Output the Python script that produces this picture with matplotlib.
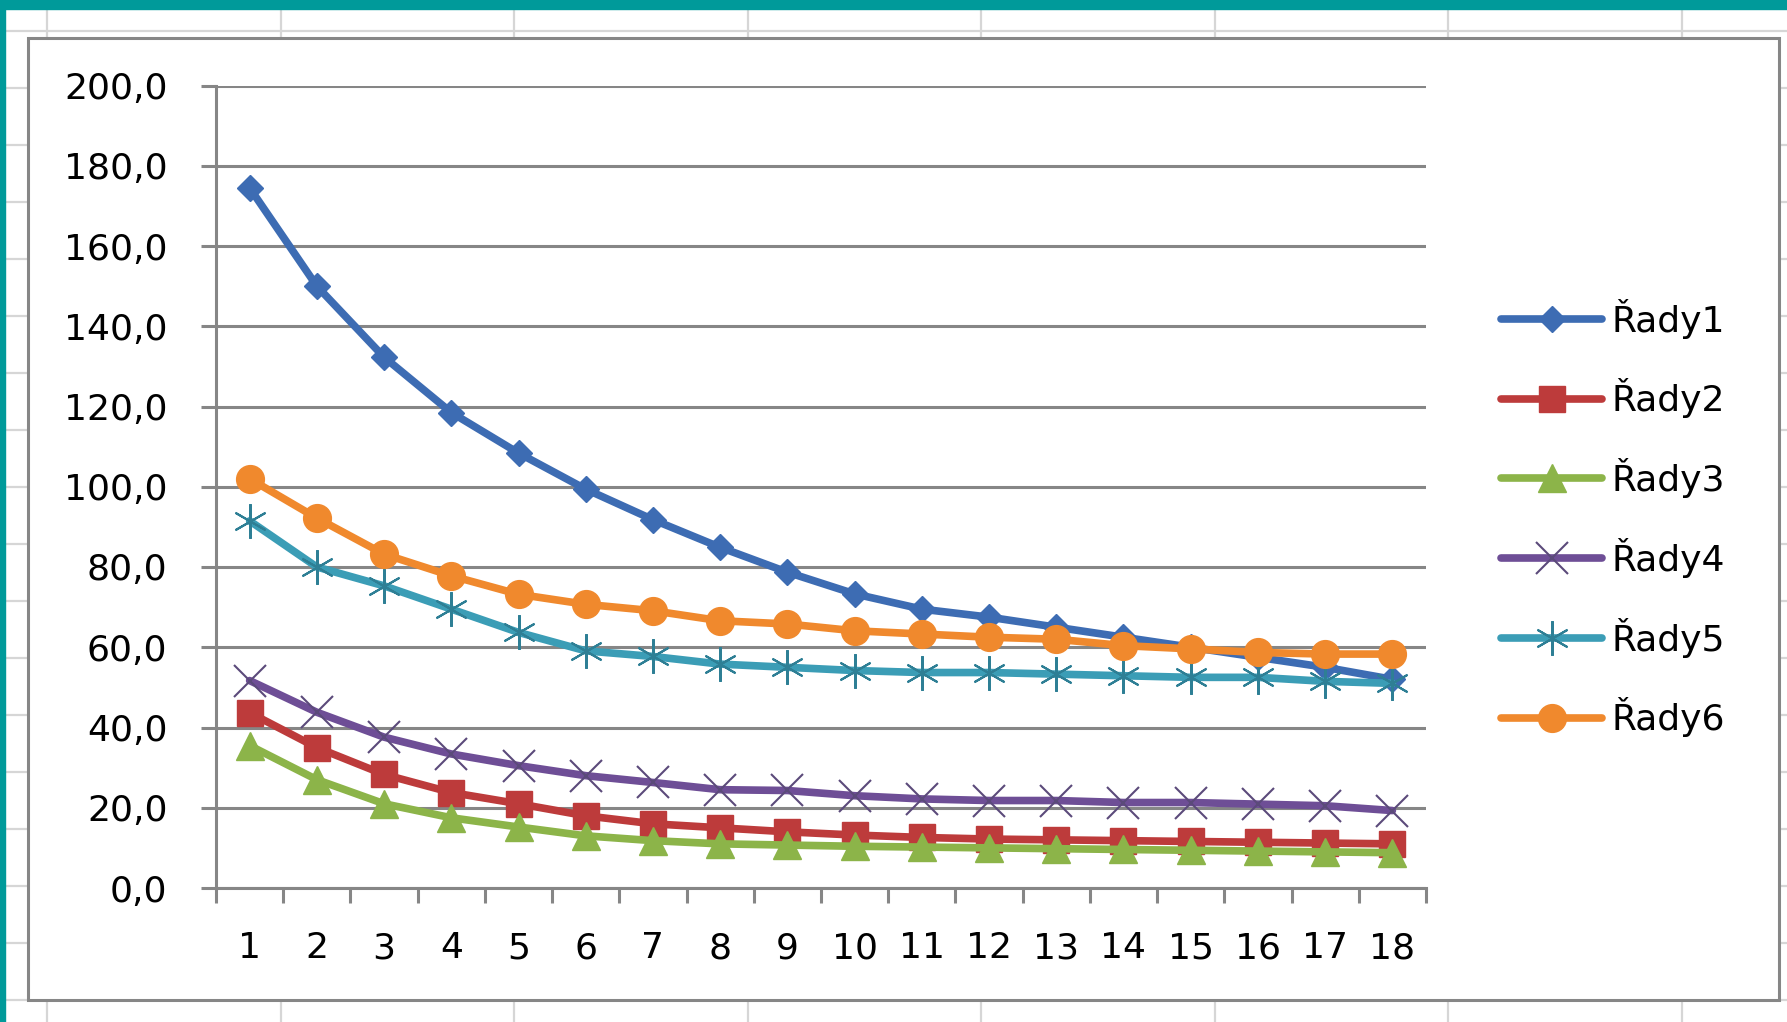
import numpy as np
import matplotlib
matplotlib.use("Agg")
import matplotlib.pyplot as plt
from matplotlib.patches import Rectangle
from matplotlib.lines import Line2D

# data
categories = list(range(1, 19))
rady1 = [174.5, 150.0, 132.3, 118.5, 108.4, 99.4, 91.8, 84.9, 78.7, 73.3, 69.5, 67.5, 65.0, 62.5, 60.0, 57.5, 55.0, 52.0]
rady2 = [43.7, 35.0, 28.3, 23.8, 21.0, 18.0, 16.0, 15.0, 14.0, 13.2, 12.6, 12.2, 12.0, 11.8, 11.6, 11.4, 11.2, 11.0]
rady3 = [35.5, 27.0, 21.0, 17.5, 15.2, 13.0, 11.8, 11.0, 10.7, 10.4, 10.2, 10.0, 9.8, 9.6, 9.4, 9.2, 9.0, 8.8]
rady4 = [51.7, 43.8, 37.6, 33.4, 30.5, 28.0, 26.3, 24.5, 24.3, 23.0, 22.2, 21.8, 21.8, 21.3, 21.3, 20.9, 20.5, 19.3]
rady5 = [91.5, 80.0, 75.3, 69.5, 63.7, 59.1, 57.7, 55.8, 55.0, 54.2, 53.7, 53.7, 53.3, 52.9, 52.5, 52.5, 51.5, 51.0]
rady6 = [102.0, 92.2, 83.2, 77.8, 73.2, 70.7, 69.1, 66.6, 65.8, 64.1, 63.3, 62.5, 62.0, 60.4, 59.6, 58.7, 58.3, 58.3]
series_names = ["Řady1", "Řady2", "Řady3", "Řady4", "Řady5", "Řady6"]
y_ticks = [0, 20, 40, 60, 80, 100, 120, 140, 160, 180, 200]
y_ticklabels = ["0,0", "20,0", "40,0", "60,0", "80,0", "100,0", "120,0", "140,0", "160,0", "180,0", "200,0"]

W, H = 1787, 1022
fig = plt.figure(figsize=(W / 100, H / 100), dpi=100)
plt.rcParams['font.family'] = ['DejaVu Sans']

def fx(px):
    return px / W

def fy(py):
    return 1 - py / H

# spreadsheet background: cell grid lines and teal window edge
grid_c = '#d6d6d6'
for k in range(19):
    y = 30.7 + 57 * k
    fig.add_artist(Line2D([0, 1], [fy(y), fy(y)], color=grid_c, lw=1.6, zorder=0))
for k in range(8):
    x = 47 + 233.5 * k
    fig.add_artist(Line2D([fx(x), fx(x)], [0, 1], color=grid_c, lw=1.6, zorder=0))
fig.add_artist(Rectangle((0, fy(9)), 1, 9 / H, color='#009a9a', zorder=1))
fig.add_artist(Rectangle((0, 0), 5 / W, 1, color='#009a9a', zorder=1))

# chart area box
fig.add_artist(Rectangle((fx(28), fy(1000)), (1779 - 28) / W, (1000 - 38) / H,
                         facecolor='white', edgecolor='#868686', lw=2.2, zorder=2))

ax = fig.add_axes([fx(216), fy(888), (1426 - 216) / W, (888 - 85.5) / H], zorder=3)
ax.set_facecolor('none')

styles = [
    dict(color='#3d6cb3', marker='D', ms=13, mfc='#3d6cb3', mec='#3d6cb3'),
    dict(color='#bd3b3b', marker='s', ms=19, mfc='#bd3b3b', mec='#bd3b3b'),
    dict(color='#8cb449', marker='^', ms=20, mfc='#8cb449', mec='#8cb449'),
    dict(color='#6e4e96', marker='x', ms=23, mfc='none', mec='#5b4a7a', mew=1.5),
    dict(color='#3b9db6', marker=(6, 2, 0), ms=25, mfc='none', mec='#2e7f95', mew=1.5),
    dict(color='#f0892d', marker='o', ms=20, mfc='#f0892d', mec='#f0892d'),
]
all_series = [rady1, rady2, rady3, rady4, rady5, rady6]
for vals, name, st in zip(all_series, series_names, styles):
    ax.plot(categories, vals, lw=5.5, label=name, solid_capstyle='round',
            solid_joinstyle='round', clip_on=False, **st)

ax.set_xlim(0.5, 18.5)
ax.set_ylim(0, 200)
ax.set_yticks(y_ticks)
ax.set_yticklabels(y_ticklabels)
ax.set_xticks(categories)
ax.set_xticklabels([str(c) for c in categories])
ax.set_xticks(np.arange(0.5, 19.0, 1.0), minor=True)
ax.grid(axis='y', color='#868686', lw=2.2, zorder=0)
ax.set_axisbelow(True)
for s in ['top', 'right']:
    ax.spines[s].set_visible(False)
for s in ['left', 'bottom']:
    ax.spines[s].set_color('#868686')
    ax.spines[s].set_linewidth(2.2)
ax.tick_params(axis='y', length=11, width=2.2, color='#868686', pad=24, labelsize=26)
ax.tick_params(axis='x', which='major', length=0, pad=31, labelsize=26)
ax.tick_params(axis='x', which='minor', length=11, width=2.2, color='#868686')

leg = ax.legend(loc='center left', bbox_to_anchor=(fx(1483), fy(518)),
                bbox_transform=fig.transFigure, frameon=False, fontsize=26,
                handlelength=2.8, handletextpad=0.25, labelspacing=1.1,
                borderpad=0, markerscale=1.0)

fig.savefig('out.png', dpi=100)
